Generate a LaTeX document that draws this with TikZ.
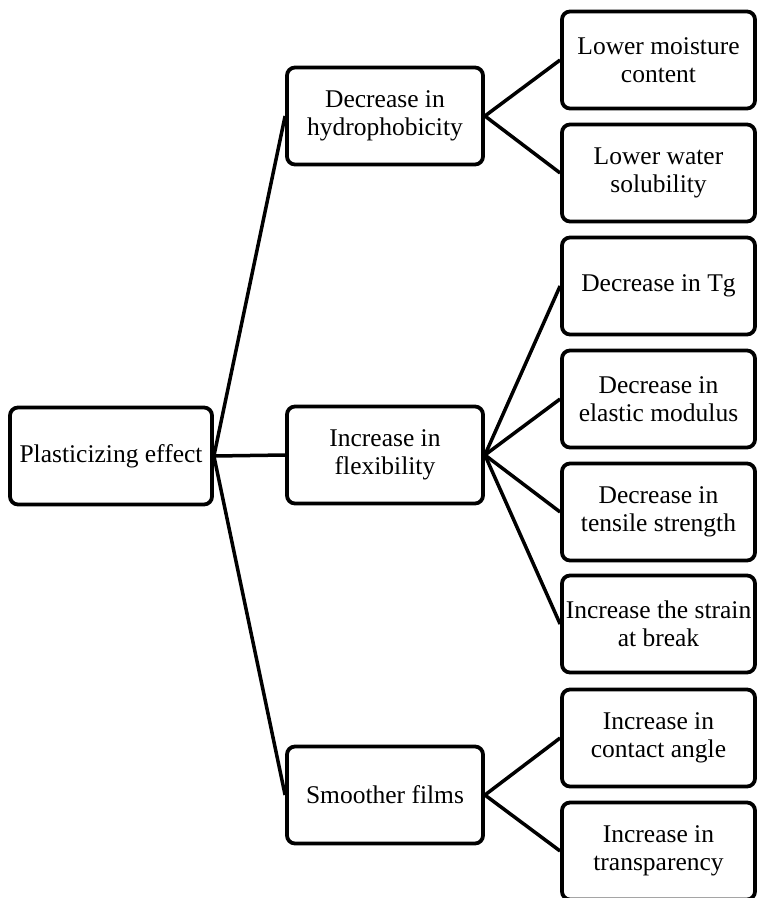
\documentclass[tikz,border=0pt]{standalone}
\usepackage{fontspec}
\setmainfont{Liberation Serif}

\begin{document}
\begin{tikzpicture}[x=1pt, y=-1pt, font=\fontsize{25.5}{28}\selectfont,
  box/.style={draw, line width=3.8pt, rounded corners=8pt, align=center, inner sep=2pt, minimum height=97pt},
  rootbox/.style={box, minimum width=202pt}, midbox/.style={box, minimum width=196pt}, leafbox/.style={box, minimum width=193pt},
  link/.style={line width=3.5pt}]
\useasboundingbox (0,0) rectangle (756,898);
\node[rootbox] (root) at (111,456) {Plasticizing effect};
\node[midbox] (hydro) at (385,116) {Decrease in\\hydrophobicity}; \node[midbox] (flex) at (385,455) {Increase in\\flexibility}; \node[midbox] (smooth) at (385,795) {Smoother films};
\node[leafbox] (moist) at (658.5,60) {Lower moisture\\content}; \node[leafbox] (solub) at (658.5,173) {Lower water\\solubility};
\node[leafbox] (tg) at (658.5,286) {Decrease in Tg}; \node[leafbox] (modul) at (658.5,399) {Decrease in\\elastic modulus};
\node[leafbox] (tensile) at (658.5,512) {Decrease in\\tensile strength}; \node[leafbox] (strain) at (658.5,624) {Increase the strain\\at break};
\node[leafbox] (contact) at (658.5,738) {Increase in\\contact angle}; \node[leafbox] (transp) at (658.5,851) {Increase in\\transparency};
\foreach \m in {hydro,flex,smooth} \draw[link] (root.east) -- (\m.west);
\foreach \l in {moist,solub} \draw[link] (hydro.east) -- (\l.west);
\foreach \l in {tg,modul,tensile,strain} \draw[link] (flex.east) -- (\l.west);
\foreach \l in {contact,transp} \draw[link] (smooth.east) -- (\l.west);
\end{tikzpicture}
\end{document}
